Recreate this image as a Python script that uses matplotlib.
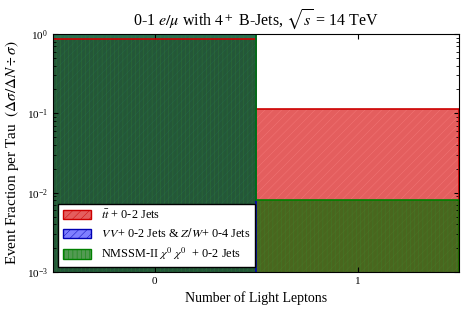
import matplotlib
matplotlib.use("Agg")
import matplotlib.pyplot as plt
import numpy as np
from matplotlib.patches import Patch

plt.rcParams['font.family'] = ['Liberation Serif', 'DejaVu Serif']
plt.rcParams['mathtext.fontset'] = 'stix'
plt.rcParams['hatch.linewidth'] = 0.3

categories = [0, 1]
ttbar = [0.855, 0.112]
vv = [1.0, 0.0]
nmssm = [0.992, 0.0081]
labels = [r"$t\bar{t}$ + 0-2 Jets",
          r"$V\,V$+ 0-2 Jets & $Z/W$+ 0-4 Jets",
          r"NMSSM-II $\chi^0$ $\chi^0$  + 0-2 Jets"]

fig = plt.figure(figsize=(4.71, 3.14), dpi=100)
ax = fig.add_axes([53/471, 1-272/314, (459-53)/471, (272-34)/314])

bins = np.array([-0.5, 0.5, 1.5])
specs = [
    (ttbar, (0.85, 0.1, 0.1, 0.7), (1.0, 0.55, 0.55, 0.6), (0.8, 0, 0, 1), '////', labels[0]),
    (vv, (0, 0, 1, 0.5), (0.4, 0.4, 1, 0.5), (0, 0, 0.7, 1), '////', labels[1]),
    (nmssm, (0, 0.42, 0, 0.68), (0.2, 0.6, 0.2, 0.5), (0, 0.5, 0, 1), '||||', labels[2]),
]
handles = []
for w, fc, hc, ec, hatch, lab in specs:
    ax.hist(categories, bins=bins, weights=w, histtype='stepfilled', log=True,
            facecolor=fc, edgecolor=hc, hatch=hatch, lw=0)
    ax.hist(categories, bins=bins, weights=w, histtype='step', log=True,
            color=ec, lw=1.2)
    handles.append(Patch(facecolor=fc, edgecolor=ec, hatch=hatch, lw=1.0, label=lab))

ax.set_xlim(-0.5, 1.5)
ax.set_ylim(1e-3, 1.0)
ax.set_yscale('log')
ax.set_xticks(categories)
ax.set_xticklabels(['0', '1'], fontsize=8)
ax.tick_params(axis='both', which='both', direction='in', right=True, top=True, labelsize=8)
ax.set_xlabel('Number of Light Leptons', fontsize=10)
ax.set_ylabel(r'Event Fraction per Tau  $(\Delta\sigma/\Delta N \div \sigma)$', fontsize=11)
ax.set_title(r'0-1 $e/\mu$ with $4^+$ B-Jets, $\sqrt{s}$ = 14 TeV', fontsize=11.5)
leg = ax.legend(handles=handles, loc='lower left', fontsize=8.8, fancybox=False, framealpha=1,
                edgecolor='black', borderaxespad=0.4, handlelength=2.3, handleheight=0.8,
                labelspacing=0.45)
leg.get_frame().set_linewidth(1.0)

fig.savefig('out.png', dpi=100)
